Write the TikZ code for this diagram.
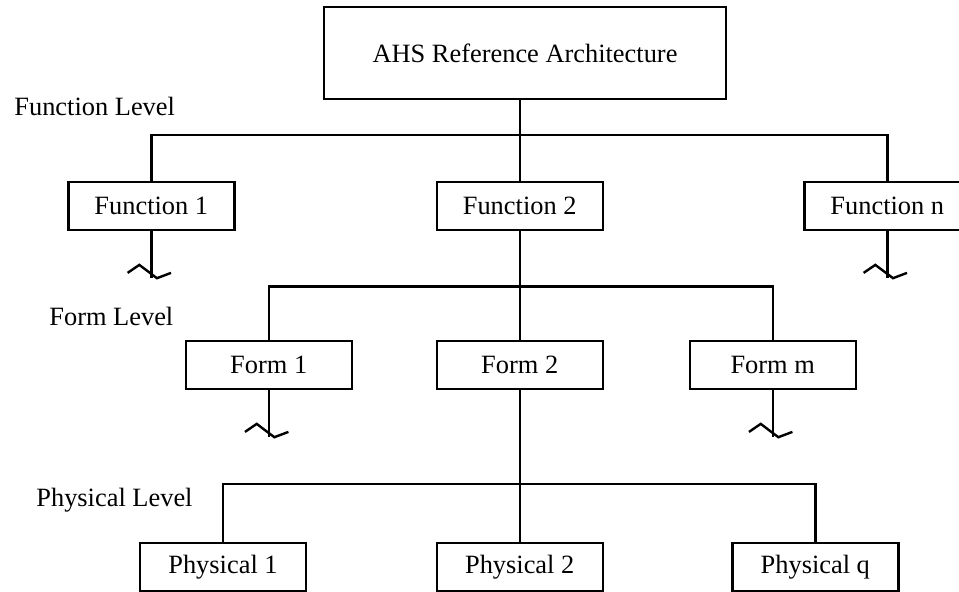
\documentclass[tikz,border=0pt]{standalone}
\usepackage{fontspec}
\setmainfont{Liberation Serif}
\usepackage{tikz}
\usetikzlibrary{positioning,calc}
\tikzset{
  levelbox/.style={draw=black,fill=white,line width=1.2pt,
                   minimum width=83pt,minimum height=24pt,
                   inner sep=0pt,align=center,font=\fontsize{13.2}{15}\selectfont},
  rootbox/.style={levelbox,minimum width=201pt,minimum height=46pt},
  levellabel/.style={anchor=west,inner sep=0pt,font=\fontsize{13.2}{15}\selectfont},
  treeline/.style={line width=1.2pt}
}
\newcommand{\cutoff}[1]{%
  \draw[treeline] (#1.south) -- ++(0,47) coordinate (#1-end);
  \draw[treeline] (#1-end) ++(-23.7,-5.3) -- ++(11.7,-8) -- ++(17.7,13.3) -- ++(14,-5.3);}

\begin{document}
\begin{tikzpicture}[x=0.5pt,y=-0.5pt]
  \useasboundingbox (0,0) rectangle (959,592);
  \clip (0,0) rectangle (959,592);
  \node[rootbox] (ahs) at (525,53) {AHS Reference Architecture};
  \node[levellabel] (funlvl) at (14,106) {Function Level};
  \node[levellabel] (formlvl) at (49,316) {Form Level};
  \node[levellabel] (physlvl) at (36,500) {Physical Level};
  \node[levelbox] (fun1) at (151.3,206) {Function 1};
  \node[levelbox] (fun2) at (519.7,206) {Function 2};
  \node[levelbox] (funn) at (887.3,206) {Function n};
  \node[levelbox] (form1) at (268.7,365) {Form 1};
  \node[levelbox] (form2) at (519.7,365) {Form 2};
  \node[levelbox] (formm) at (772.7,365) {Form m};
  \node[levelbox] (phys1) at (223,567) {Physical 1};
  \node[levelbox] (phys2) at (519.7,567) {Physical 2};
  \node[levelbox] (physq) at (815.3,567) {Physical q};
  \coordinate (funbar) at (0,135);
  \coordinate (formbar) at (0,286.7);
  \coordinate (physbar) at (0,484);
  \draw[treeline] (fun2.north |- ahs.south) -- (fun2.north);
  \draw[treeline] (fun1.north) -- (fun1.north |- funbar) -- (funn.north |- funbar) -- (funn.north);
  \draw[treeline] (fun2.south) -- (form2.north);
  \draw[treeline] (form1.north) -- (form1.north |- formbar) -- (formm.north |- formbar) -- (formm.north);
  \draw[treeline] (form2.south) -- (phys2.north);
  \draw[treeline] (phys1.north) -- (phys1.north |- physbar) -- (physq.north |- physbar) -- (physq.north);
  \cutoff{fun1}
  \cutoff{funn}
  \cutoff{form1}
  \cutoff{formm}
\end{tikzpicture}
\end{document}
